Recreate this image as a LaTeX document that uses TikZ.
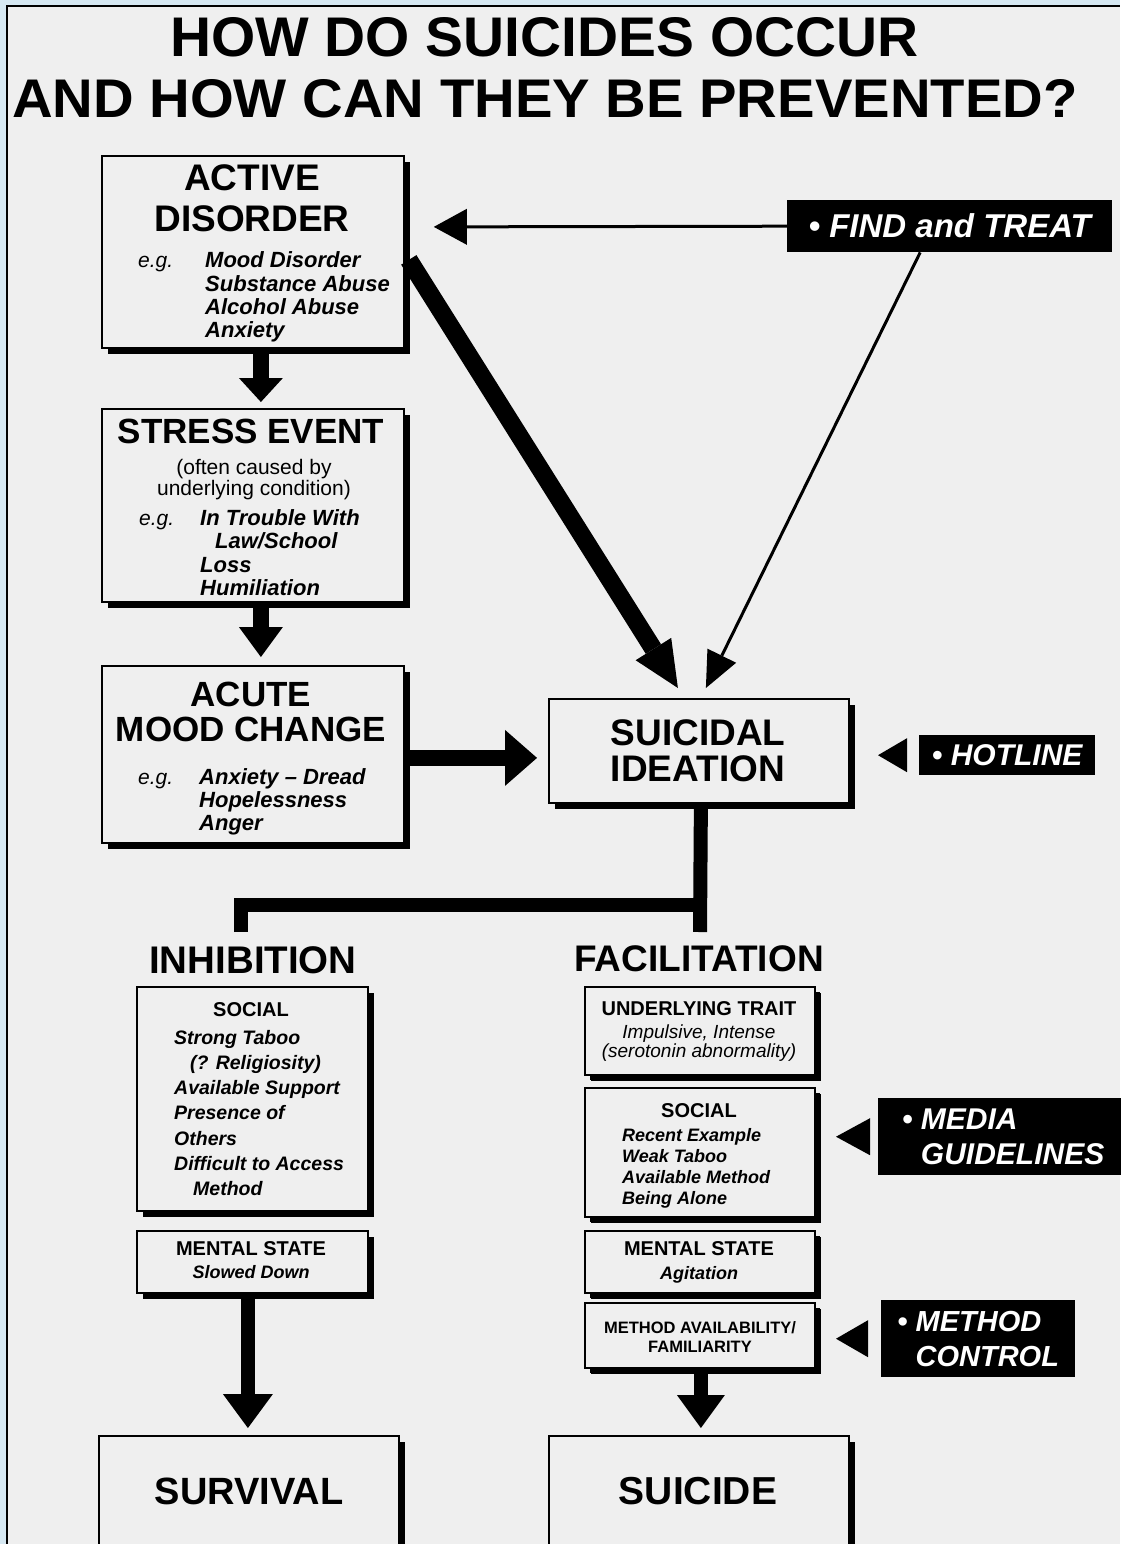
\documentclass[tikz,border=0pt]{standalone}
\usepackage{graphicx}
\usepackage{fontspec}
\setmainfont{Liberation Sans}
\usetikzlibrary{arrows.meta,shadows}
\definecolor{bg}{HTML}{EFEFEF}
\definecolor{outer}{HTML}{D6E8F2}
\newcommand{\fsz}[2]{\fontsize{#1}{#2}\selectfont}
\begin{document}
\begin{tikzpicture}[x=1pt,y=-1pt,
  box/.style={draw, line width=1.8pt, fill=bg, inner sep=0pt, anchor=north west,
    general shadow={fill=black, shadow xshift=6pt, shadow yshift=-6pt}},
  sbox/.style={box, general shadow={fill=black, shadow xshift=5pt, shadow yshift=-5pt}},
  lab/.style={fill=black, text=white, inner sep=0pt, anchor=north west, align=left},
  hdA/.style={font=\bfseries\fsz{37}{40}, anchor=base, inner sep=0pt},
  hdB/.style={font=\bfseries\fsz{35}{38}, anchor=base, inner sep=0pt},
  itm/.style={font=\bfseries\itshape\fsz{22}{24}, anchor=base west, inner sep=0pt},
  eg/.style={font=\itshape\fsz{21}{23}, anchor=base west, inner sep=0pt},
  rg/.style={font=\fsz{21}{23}, anchor=base, inner sep=0pt},
  shd/.style={font=\bfseries\fsz{20}{22}, anchor=base, inner sep=0pt},
  sit/.style={font=\bfseries\itshape\fsz{19.5}{22}, anchor=base west, inner sep=0pt},
  fit/.style={font=\bfseries\itshape\fsz{18}{20}, anchor=base west, inner sep=0pt},
  fat/.style={line width=#1},
  thin/.style={line width=3pt},
]
\useasboundingbox (0,0) rectangle (1120,1544);
% background
\fill[outer] (0,0) rectangle (1120,1544);
\fill[bg] (7,6) rectangle (1120,1544);
\draw[line width=2.5pt] (7,1544) -- (7,6) -- (1120,6);

% title
\node[anchor=south west, inner sep=0pt] (title1) at (170,57) {\resizebox{748pt}{39pt}{\bfseries HOW DO SUICIDES OCCUR}};
\node[anchor=south west, inner sep=0pt] (title2) at (12,118) {\resizebox{1065pt}{38pt}{\bfseries AND HOW CAN THEY BE PREVENTED?}};

% left column boxes
\node[box, minimum width=302pt, minimum height=192pt] (ad) at (101,155) {};
\node[box, minimum width=302pt, minimum height=193pt] (se) at (101,408) {};
\node[box, minimum width=302pt, minimum height=177pt] (am) at (101,665) {};
\node[box, minimum width=300pt, minimum height=104pt] (si) at (548,698) {};

% active disorder text
\node[hdA] (adh1) at (252,190) {ACTIVE};
\node[hdA] (adh2) at (252,231) {DISORDER};
\node[eg] (adeg) at (138,267) {e.g.};
\node[itm] (adi1) at (205,267) {Mood Disorder};
\node[itm] (adi2) at (205,291) {Substance Abuse};
\node[itm] (adi3) at (205,314) {Alcohol Abuse};
\node[itm] (adi4) at (205,337) {Anxiety};

% stress event text
\node[hdB] (seh) at (251,443) {STRESS EVENT};
\node[rg] (ser1) at (254,474) {(often caused by};
\node[rg] (ser2) at (254,495) {underlying condition)};
\node[eg] (seeg) at (139,525) {e.g.};
\node[itm] (sei1) at (200,525) {In Trouble With};
\node[itm] (sei2) at (215,548) {Law/School};
\node[itm] (sei3) at (200,572) {Loss};
\node[itm] (sei4) at (200,595) {Humiliation};

% acute mood change text
\node[hdB] (amh1) at (251,706) {ACUTE};
\node[hdB] (amh2) at (251,741) {MOOD CHANGE};
\node[eg] (ameg) at (138,784) {e.g.};
\node[itm] (ami1) at (199,784) {Anxiety – Dread};
\node[itm] (ami2) at (199,807) {Hopelessness};
\node[itm] (ami3) at (199,830) {Anger};

% suicidal ideation text
\node[hdA] (sih1) at (698,745) {SUICIDAL};
\node[hdA] (sih2) at (698,781) {IDEATION};

% section labels
\node[hdA, font=\bfseries\fsz{38.5}{40}] (inh) at (253,973) {INHIBITION};
\node[hdA] (fac) at (699,971) {FACILITATION};

% inhibition boxes
\node[box, minimum width=231pt, minimum height=224pt] (is) at (136,986) {};
\node[box, minimum width=231pt, minimum height=62pt] (im) at (136,1230) {};
\node[shd] (ish) at (251,1016) {SOCIAL};
\node[sit] (isi1) at (174,1044) {Strong Taboo};
\node[sit] (isi2) at (190,1069) {(? Religiosity)};
\node[sit] (isi3) at (174,1094) {Available Support};
\node[sit] (isi4) at (174,1119) {Presence of};
\node[sit] (isi5) at (174,1145) {Others};
\node[sit] (isi6) at (174,1170) {Difficult to Access};
\node[sit] (isi7) at (193,1195) {Method};
\node[shd] (imh) at (251,1255) {MENTAL STATE};
\node[fit, anchor=base] (imi) at (251,1278) {Slowed Down};

% facilitation boxes
\node[sbox, minimum width=230pt, minimum height=88pt] (ut) at (584,986) {};
\node[sbox, minimum width=230pt, minimum height=129pt] (fs) at (584,1087) {};
\node[sbox, minimum width=230pt, minimum height=62pt] (fm) at (584,1230) {};
\node[sbox, minimum width=230pt, minimum height=65pt] (ma) at (584,1302) {};
\node[shd] (uth) at (699,1015) {UNDERLYING TRAIT};
\node[font=\itshape\fsz{19}{20}, anchor=base, inner sep=0pt] (uti1) at (699,1038) {Impulsive, Intense};
\node[font=\itshape\fsz{19}{20}, anchor=base, inner sep=0pt] (uti2) at (699,1057) {(serotonin abnormality)};
\node[shd] (fsh) at (699,1117) {SOCIAL};
\node[fit] (fsi1) at (622,1141) {Recent Example};
\node[fit] (fsi2) at (622,1162) {Weak Taboo};
\node[fit] (fsi3) at (622,1183) {Available Method};
\node[fit] (fsi4) at (622,1204) {Being Alone};
\node[shd] (fmh) at (699,1255) {MENTAL STATE};
\node[fit, anchor=base] (fmi) at (699,1279) {Agitation};
\node[font=\bfseries\fsz{16.5}{18}, anchor=base, inner sep=0pt] (mah1) at (700,1333) {METHOD AVAILABILITY/};
\node[font=\bfseries\fsz{16.5}{18}, anchor=base, inner sep=0pt] (mah2) at (700,1352) {FAMILIARITY};

% outcome boxes
\node[box, minimum width=300pt, minimum height=110pt] (sv) at (98,1435) {};
\node[box, minimum width=300pt, minimum height=110pt] (sc) at (548,1435) {};
\node[hdA, font=\bfseries\fsz{38}{40}] (svh) at (249,1504) {SURVIVAL};
\node[hdA, font=\bfseries\fsz{39}{40}] (sch) at (698,1504) {SUICIDE};

% prevention labels
\node[lab, minimum width=325pt, minimum height=52pt, font=\bfseries\itshape\fsz{33}{35}] (ft) at (787,200) {\textbullet\ FIND and TREAT};
\node[lab, minimum width=176pt, minimum height=40pt, font=\bfseries\itshape\fsz{30}{34}] (hl) at (919,735) {\textbullet\ HOTLINE};
\node[lab, minimum width=250pt, minimum height=77pt, font=\bfseries\itshape\fsz{30}{35}] (mg) at (878,1098) {\textbullet\ MEDIA\\\phantom{\textbullet\ }GUIDELINES};
\node[lab, minimum width=194pt, minimum height=77pt, font=\bfseries\itshape\fsz{29}{35}] (mc) at (881,1300) {\textbullet\ METHOD\\\phantom{\textbullet\ }CONTROL};

% pointer triangles
\fill ([xshift=-41pt]hl.west) -- ([xshift=-12pt,yshift=17pt]hl.west) -- ([xshift=-12pt,yshift=-17pt]hl.west) -- cycle;
\fill ([xshift=-42pt]mg.west) -- ([xshift=-8pt,yshift=18.5pt]mg.west) -- ([xshift=-8pt,yshift=-18.5pt]mg.west) -- cycle;
\fill ([xshift=-45pt]mc.west) -- ([xshift=-13pt,yshift=18.5pt]mc.west) -- ([xshift=-13pt,yshift=-18.5pt]mc.west) -- cycle;

% connectors
\draw[fat=16pt, -{Triangle[length=24pt,width=44pt,line width=0pt]}] ([xshift=8pt]ad.south) -- ([xshift=8pt,yshift=6pt]se.north);
\draw[fat=16pt, -{Triangle[length=30pt,width=44pt,line width=0pt]}] ([xshift=8pt]se.south) -- ([xshift=8pt,yshift=8pt]am.north);
\draw[fat=16pt, -{Triangle[length=32pt,width=56pt,line width=0pt]}] ([yshift=-3.5pt]am.east) -- ([xshift=-11pt,yshift=-7pt]si.west);
\draw[fat=18pt, -{Triangle[length=46pt,width=42pt,line width=0pt]}] ([xshift=4pt,yshift=-8pt]ad.east) -- ([xshift=-21pt,yshift=10pt]si.north);
\draw[thin, -{Triangle[length=36pt,width=32pt,line width=0pt]}] ([xshift=-29.5pt]ft.south) -- ([xshift=7pt,yshift=10pt]si.north);
\draw[thin, -{Triangle[length=33pt,width=36pt,line width=0pt]}] (ft.west) -- ([xshift=29pt,yshift=25pt]ad.east);

\coordinate (jr) at (700,905);
\coordinate (jl) at (241,905);
\coordinate (el) at (241,932);
\coordinate (er) at (700,932);
\draw[fat=14pt] ([xshift=2pt]si.south) -- (er);
\draw[fat=14pt, line join=miter] (el) -- (jl) -- ([xshift=7pt]jr);

\draw[fat=14pt, -{Triangle[length=34pt,width=50pt,line width=0pt]}] ([xshift=-4.5pt]im.south) -- ([xshift=-1pt,yshift=7pt]sv.north);
\draw[fat=14pt, -{Triangle[length=33pt,width=48pt,line width=0pt]}] ([xshift=1pt]ma.south) -- ([xshift=2pt,yshift=7pt]sc.north);
\end{tikzpicture}
\end{document}
